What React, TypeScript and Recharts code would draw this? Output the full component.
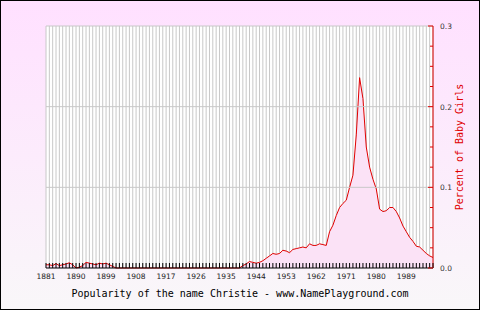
import {
  AreaChart, Area,
  XAxis, YAxis, CartesianGrid,
  ReferenceLine,
} from 'recharts';

const FIRST_YEAR = 1881;

// percent of baby girls, one value per year from 1881 to 1997
const percents: number[] = [
  0.004, 0.004, 0.003, 0.0055, 0.003, 0.004, 0.005, 0.0065, 0.004, 0,
  0.001, 0.003, 0.007, 0.006, 0.005, 0.004, 0.006, 0.005, 0.006, 0.004,
  0.002,
  0, 0, 0, 0, 0, 0, 0, 0, 0, 0,
  0, 0, 0, 0, 0, 0, 0, 0, 0, 0,
  0, 0, 0, 0, 0, 0, 0, 0, 0, 0,
  0, 0, 0, 0, 0, 0, 0, 0,
  0.003, 0.005, 0.008, 0.007, 0.006, 0.007, 0.009, 0.012, 0.015, 0.018,
  0.017, 0.018, 0.022, 0.021, 0.019, 0.023, 0.024, 0.025, 0.026, 0.025,
  0.030, 0.028, 0.028, 0.030, 0.029, 0.028, 0.045, 0.053, 0.065, 0.075,
  0.080, 0.084, 0.100, 0.115, 0.165, 0.236, 0.210, 0.150, 0.125, 0.110,
  0.098, 0.073, 0.070, 0.071, 0.075, 0.075, 0.070, 0.062, 0.052, 0.045,
  0.038, 0.033, 0.027, 0.026, 0.022, 0.018, 0.015, 0.013,
];

const years = percents.map((_, i) => FIRST_YEAR + i);
const yTicks = [0, 0.025, 0.05, 0.075, 0.1, 0.125, 0.15, 0.175, 0.2, 0.225, 0.25, 0.275, 0.3];
const yGrid = [0.1, 0.2, 0.3];

const data = years.map((year, i) => ({ year, value: percents[i] }));

const TICK_FONT = '"DejaVu Sans", sans-serif';
const MONO_FONT = '"DejaVu Sans Mono", monospace';
const RED = '#e00000';

const YearTick = (props: any) => {
  const { x, y, payload } = props;
  const year = payload.value;
  const showLabel = (year - FIRST_YEAR) % 9 === 0;
  return (
    <g>
      <line x1={x} x2={x} y1={y - 5} y2={y} stroke="#000" />
      {showLabel && (
        <text x={x} y={y + 11} textAnchor="middle" fontSize={7.5}
          fontFamily={TICK_FONT} fill="#222">{year}</text>
      )}
    </g>
  );
};

const PercentTick = (props: any) => {
  const { x, y, payload } = props;
  const v = payload.value;
  const major = Math.abs(v * 10 - Math.round(v * 10)) < 1e-6;
  return (
    <g>
      <line x1={x - (major ? 5 : 3)} x2={x} y1={y} y2={y} stroke={RED} />
      {major && (
        <text x={x + 7} y={y + 3} textAnchor="start" fontSize={7.5}
          fontFamily={TICK_FONT} fill="#333">{v.toFixed(1)}</text>
      )}
    </g>
  );
};

export default function App() {
  return (
    <div style={{
      position: 'absolute', left: 0, top: 0, width: 480, height: 310,
      background: 'linear-gradient(#ffe0ff, #f9f7f9)',
    }}>
      <AreaChart width={480} height={310} data={data}
        margin={{ top: 26, right: 7, bottom: 22, left: 46 }}>
        <CartesianGrid horizontal={false} stroke="#c8c8c8" fill="#fff" />
        {yGrid.map((v) => (
          <ReferenceLine key={v} y={v} stroke="#c8c8c8" yAxisId="p" />
        ))}
        <Area type="linear" dataKey="value" yAxisId="p" stroke={RED} strokeWidth={1}
          fill="#fbe2f6" fillOpacity={1} isAnimationActive={false} />
        <XAxis dataKey="year" type="number" domain={[1881, 1997]} ticks={years}
          interval={0} height={20} tickSize={0} tickMargin={0}
          axisLine={{ stroke: '#000' }} tickLine={false} tick={<YearTick />} />
        <YAxis yAxisId="p" orientation="right" domain={[0, 0.3]} ticks={yTicks}
          interval={0} width={40} tickSize={0} tickMargin={0}
          axisLine={{ stroke: RED }} tickLine={false} tick={<PercentTick />}
          label={{ value: 'Percent of Baby Girls', angle: -90, position: 'center',
            dx: 6, fill: RED, fontSize: 10, fontFamily: MONO_FONT }} />
      </AreaChart>
      <div style={{
        position: 'absolute', left: 0, top: 288, width: 480, textAlign: 'center',
        fontFamily: MONO_FONT, fontSize: 10, lineHeight: '12px', color: '#000',
      }}>
        Popularity of the name Christie - www.NamePlayground.com
      </div>
      <div style={{
        position: 'absolute', left: 0, top: 0, width: 480, height: 310,
        boxSizing: 'border-box', border: '1px solid #000', pointerEvents: 'none',
      }} />
    </div>
  );
}
